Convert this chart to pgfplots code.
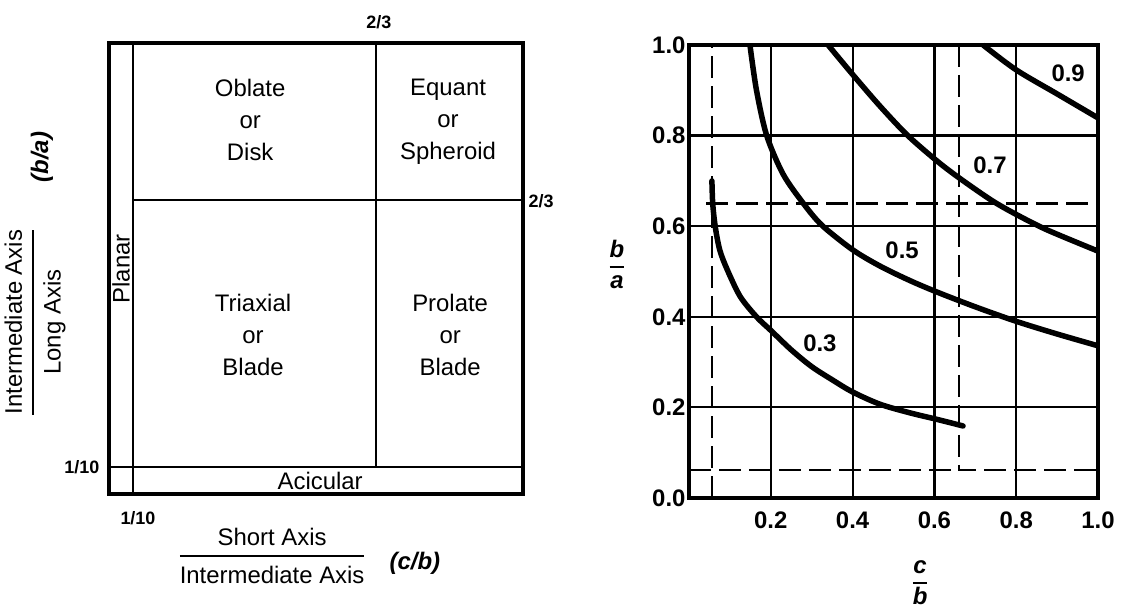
\documentclass[border=0pt]{standalone}
\usepackage{pgfplots}
\pgfplotsset{compat=1.18}
\usepackage{fontspec}
\setmainfont{Liberation Sans}
\newcommand\lbl{\fontsize{24}{32}\selectfont}
\newcommand\num{\fontsize{24}{29}\selectfont\bfseries}
\newcommand\sml{\fontsize{18}{22}\selectfont\bfseries}
\begin{document}
\begin{tikzpicture}
\path[use as bounding box] (0,0) rectangle (1122bp,616bp);

% Zingg shape classes
\begin{axis}[at={(109bp,122bp)}, anchor=south west, scale only axis,
  width=414bp, height=451bp, xmin=0, xmax=1, ymin=0, ymax=1,
  xtick=\empty, ytick=\empty, clip=false,
  axis line style={line width=3.5bp}]
\addplot[line width=2.5bp] coordinates {(0.058,0) (0.058,1)};
\addplot[line width=2.5bp] coordinates {(0,0.060) (1,0.060)};
\addplot[line width=2.5bp] coordinates {(0.058,0.652) (1,0.652)};
\addplot[line width=2.5bp] coordinates {(0.645,0.060) (0.645,1)};
\node[font=\lbl, align=center] at (axis cs:0.341,0.829) {Oblate\\or\\Disk};
\node[font=\lbl, align=center] at (axis cs:0.819,0.825) {Equant\\or\\Spheroid};
\node[font=\lbl, align=center] at (axis cs:0.348,0.353) {Triaxial\\or\\Blade};
\node[font=\lbl, align=center] at (axis cs:0.824,0.353) {Prolate\\or\\Blade};
\node[font=\lbl, rotate=90] at (axis cs:0.029,0.499) {Planar};
\node[font=\lbl] at (axis cs:0.51,0.029) {Acicular};
\node[font=\sml] at (axis cs:0.652,1.047) {2/3};
\node[font=\sml, anchor=west] at (axis cs:1.005,0.650) {2/3};
\node[font=\sml, anchor=east] at (axis cs:-0.015,0.060) {1/10};
\node[font=\sml] at (axis cs:0.070,-0.053) {1/10};
\node[font=\lbl] at (axis cs:0.394,-0.142) {\setlength\arrayrulewidth{2bp}%
  \begin{tabular}{@{}c@{}}Short Axis\\\hline\rule{0pt}{27bp}Intermediate Axis\end{tabular}};
\node[font=\lbl\bfseries\itshape] at (axis cs:0.739,-0.153) {(c/b)};
\node[font=\lbl, rotate=90] at (axis cs:-0.179,0.381) {\setlength\arrayrulewidth{2bp}%
  \begin{tabular}{@{}c@{}}Intermediate Axis\\\hline\rule{0pt}{27bp}Long Axis\end{tabular}};
\node[font=\lbl\bfseries\itshape, rotate=90] at (axis cs:-0.162,0.747) {(b/a)};
\end{axis}

% sphericity curves
\begin{axis}[at={(689bp,118bp)}, anchor=south west, scale only axis,
  width=409bp, height=453bp, xmin=0, xmax=1, ymin=0, ymax=1,
  xtick={0.2,0.4,0.6,0.8,1.0}, ytick={0,0.2,0.4,0.6,0.8,1.0},
  grid=major, major grid style={black, line width=2.2bp},
  major tick length=0, clip=false,
  axis line style={line width=3.5bp},
  ticklabel style={font=\num},
  xticklabel style={yshift=-10bp},
  /pgf/number format/fixed, /pgf/number format/fixed zerofill,
  /pgf/number format/precision=1, /pgf/number format/assume math mode=true]
\addplot[line width=2.8bp, dash pattern=on 22bp off 8bp] coordinates {(0.056,0) (0.056,1)};
\addplot[line width=2.8bp, dash pattern=on 22bp off 8bp] coordinates {(0.042,0.650) (1,0.650)};
\addplot[line width=2.8bp, dash pattern=on 22bp off 8bp] coordinates {(0.66,1) (0.66,0.062) (1,0.062)};
\addplot[line width=2.8bp, dash pattern=on 22bp off 8bp] coordinates {(0,0.062) (0.66,0.062)};
\addplot[line width=5.5bp, smooth, line cap=round] coordinates {
 (0.056,0.70) (0.058,0.65) (0.064,0.60) (0.075,0.548) (0.093,0.505) (0.125,0.445)
 (0.165,0.40) (0.20,0.37) (0.25,0.327) (0.30,0.29) (0.35,0.261) (0.40,0.234)
 (0.467,0.207) (0.54,0.188) (0.609,0.173) (0.67,0.159)};
\addplot[line width=5.5bp, smooth] coordinates {
 (0.149,1.0) (0.165,0.90) (0.19,0.80) (0.23,0.715) (0.279,0.651) (0.325,0.602)
 (0.40,0.548) (0.467,0.512) (0.54,0.48) (0.608,0.454) (0.70,0.422) (0.80,0.390)
 (0.90,0.362) (1.0,0.336)};
\addplot[line width=5.5bp, smooth] coordinates {
 (0.34,1.0) (0.40,0.935) (0.467,0.865) (0.535,0.80) (0.609,0.742) (0.663,0.705)
 (0.74,0.657) (0.80,0.626) (0.875,0.592) (1.0,0.545)};
\addplot[line width=5.5bp, smooth] coordinates {
 (0.719,1.0) (0.80,0.945) (0.90,0.892) (1.0,0.839)};
\node[font=\num] at (axis cs:0.927,0.938) {0.9};
\node[font=\num] at (axis cs:0.736,0.735) {0.7};
\node[font=\num] at (axis cs:0.521,0.547) {0.5};
\node[font=\num] at (axis cs:0.32,0.342) {0.3};
\node[font=\num\itshape] at (axis cs:-0.176,0.51) {\setlength\arrayrulewidth{2bp}%
  \begin{tabular}{@{}c@{}}b\\\hline a\end{tabular}};
\node[font=\num\itshape] at (axis cs:0.565,-0.188) {\setlength\arrayrulewidth{2bp}%
  \begin{tabular}{@{}c@{}}c\\\hline b\end{tabular}};
\end{axis}
\end{tikzpicture}
\end{document}
